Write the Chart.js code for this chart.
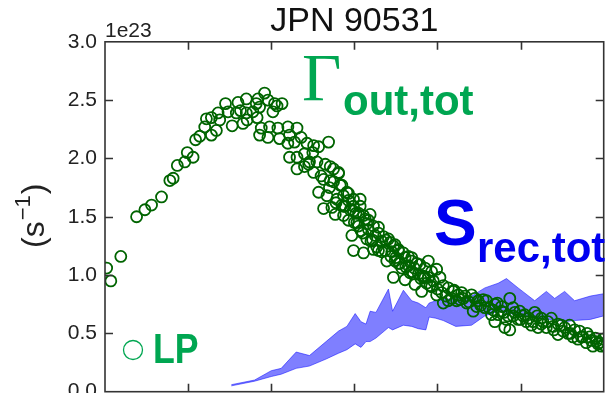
<!DOCTYPE html>
<html><head><meta charset="utf-8">
<script src="https://cdn.jsdelivr.net/npm/chart.js@4"></script>
<style>html,body{margin:0;padding:0;background:#fff;overflow:hidden}</style>
</head><body>
<canvas id="c" width="611" height="399"></canvas>
<script>
// Gamma_out,tot scatter (units of 1e23 s^-1)
const lpX = [
  0.02,0.07,0.19,0.38,0.48,0.56,0.68,0.78,0.82,0.87,
  0.96,0.99,1.06,1.09,1.14,1.20,1.22,1.28,1.34,1.36,
  1.38,1.45,1.48,1.53,1.58,1.60,1.66,1.70,1.70,1.71,
  1.78,1.82,1.86,1.92,1.96,2.02,2.04,2.13,2.07,1.28,
  1.63,1.83,1.84,
  1.88,1.86,1.98,1.96,2.08,2.10,2.20,2.22,2.31,2.36,
  2.20,2.28,2.43,2.51,2.69,2.57,2.22,2.31,2.40,2.46,
  2.55,2.31,2.40,2.51,2.71,2.81,2.63,2.75,2.57,2.67,
  2.83,2.91,2.79,2.99,2.63,2.87,2.99,3.07,
  2.75,2.81,2.71,2.85,2.93,3.07,2.73,2.77,2.89,3.02,
  3.19,3.13,2.97,2.99,3.11,3.05,3.17,3.25,3.33,3.43,
  3.23,3.37,3.53,3.61,3.69,3.49,3.39,3.57,3.69,3.47,
  3.61,3.77,3.85,3.93,3.89,3.73,3.49,3.29,
  3.69,3.79,3.89,3.99,3.71,3.85,4.03,4.13,3.91,3.81,
  3.99,4.07,4.29,4.41,4.23,4.35,4.49,4.57,4.43,4.69,
  4.77,4.65,4.69,4.25,4.13,
  4.87,4.77,4.91,4.99,4.87,4.83,4.97,5.17,5.13,5.25,
  5.37,5.31,5.49,5.59,5.57,5.45,5.71,5.69,5.83,5.79,
  5.91,5.97,5.87,5.21,5.07,4.81,
  2.87,2.93,2.99,3.05,3.11,3.17,3.23,3.29,3.35,3.41,
  3.47,3.53,3.59,3.65,2.87,2.93,3.03,3.08,3.15,3.20,
  3.29,3.44,3.53,3.65,3.75,3.83,3.95,4.07,4.19,4.31,
  4.47,4.59,4.73,4.91,5.03,5.27,5.39,5.51,5.63,5.75,
  5.93,5.99,
  2.45,2.50,2.60,2.65,2.70,2.78,2.85,2.95,3.00,3.10,
  3.15,3.22,3.27,3.33,3.38,3.45,3.50,3.55,3.62,3.67,
  3.72,3.80,3.87,3.93,4.00,4.05,4.10,4.17,4.20,4.27,
  4.33,4.38,4.45,4.52,4.55,4.62,4.67,4.72,4.80,4.85,
  4.93,5.00,5.05,5.10,5.15,5.20,5.25,5.33,5.40,5.45,
  5.53,5.60,5.65,5.73,5.80,5.85,5.90,5.95,6.00
];
const lpY = [
  1.06,0.95,1.16,1.50,1.56,1.60,1.67,1.81,1.83,1.94,
  1.97,2.05,2.01,2.16,2.19,2.27,2.34,2.20,2.24,2.39,
  2.33,2.47,2.40,2.28,2.39,2.48,2.30,2.51,2.39,2.33,
  2.40,2.47,2.44,2.56,2.50,2.40,2.47,2.47,2.45,2.35,
  2.41,2.35,2.51,
  2.26,2.20,2.27,2.18,2.26,2.17,2.27,2.20,2.26,2.18,
  2.13,2.14,2.13,2.11,2.14,2.10,2.01,2.01,2.04,1.97,
  1.97,1.91,1.93,1.88,1.93,1.88,1.82,1.80,1.71,1.68,
  1.77,1.71,1.65,1.65,1.57,1.59,1.55,1.59,
  1.91,1.87,1.81,1.77,1.70,1.65,1.58,1.52,1.59,1.53,
  1.52,1.48,1.34,1.21,1.19,1.42,1.39,1.34,1.29,1.28,
  1.22,1.21,1.22,1.15,1.12,1.12,1.12,1.06,1.03,0.98,
  0.96,1.01,1.06,1.03,0.98,0.92,1.26,1.41,
  1.15,1.09,1.12,1.05,1.01,0.98,0.98,0.89,0.91,0.86,
  0.83,0.76,0.85,0.83,0.78,0.76,0.78,0.72,0.69,0.75,
  0.69,0.66,0.60,0.83,0.78,
  0.80,0.73,0.72,0.69,0.53,0.62,0.62,0.68,0.57,0.63,
  0.63,0.55,0.57,0.57,0.50,0.49,0.52,0.45,0.47,0.42,
  0.43,0.39,0.39,0.55,0.60,0.55,
  1.68,1.64,1.59,1.53,1.51,1.47,1.42,1.36,1.33,1.31,
  1.25,1.21,1.19,1.16,1.51,1.47,1.45,1.38,1.31,1.29,
  1.21,1.16,1.10,1.08,1.10,0.99,0.95,0.91,0.86,0.80,
  0.73,0.78,0.66,0.65,0.65,0.60,0.56,0.52,0.47,0.47,
  0.41,0.45,
  1.95,2.05,1.85,1.95,1.75,1.62,1.60,1.56,1.45,1.36,
  1.44,1.30,1.24,1.20,1.30,1.20,1.15,1.10,1.07,1.02,
  1.06,0.97,0.93,0.90,0.88,0.85,0.82,0.80,0.87,0.79,
  0.82,0.77,0.80,0.74,0.79,0.72,0.70,0.76,0.68,0.65,
  0.68,0.62,0.66,0.63,0.60,0.65,0.58,0.60,0.53,0.58,
  0.55,0.50,0.53,0.47,0.50,0.44,0.46,0.42,0.40
];
// S_rec,tot band (units of 1e23 s^-1)
const bandX = [1.52,1.80,2.00,2.12,2.30,2.46,2.66,2.81,2.91,3.01,3.08,3.14,3.19,3.26,3.41,3.46,3.59,3.69,3.77,3.86,3.90,3.98,4.07,4.22,4.41,4.57,4.73,4.83,4.97,5.17,5.31,5.41,5.53,5.65,5.84,6.00];
const bandUpper = [0.06,0.10,0.18,0.20,0.34,0.31,0.43,0.52,0.56,0.67,0.60,0.58,0.69,0.68,0.88,0.69,0.87,0.78,0.76,0.72,0.76,0.78,0.79,0.80,0.82,0.89,0.93,0.97,0.89,0.78,0.86,0.80,0.86,0.78,0.82,0.84];
const bandLower = [0.05,0.09,0.13,0.15,0.20,0.22,0.28,0.33,0.36,0.41,0.38,0.43,0.43,0.46,0.55,0.53,0.57,0.56,0.54,0.53,0.64,0.63,0.61,0.56,0.57,0.65,0.69,0.68,0.65,0.64,0.62,0.62,0.60,0.61,0.62,0.65];
const xRange = [0, 6];
const yRange = [0, 3];
const yStep = 0.5;
const titleText = 'JPN 90531';
const offsetText = '1e23';

const GREEN_TXT = '#00a651';
const BLUE_TXT = '#0000f0';
const DARKGREEN = '#006400';
const BAND = 'rgba(0,0,255,0.5)';

const decor = {
  id: 'decor',
  afterDraw(chart) {
    const ctx = chart.ctx;
    const {left, right, top, bottom} = chart.chartArea;
    const xs = chart.scales.x, ys = chart.scales.y;
    ctx.save();
    ctx.strokeStyle = '#333';
    ctx.lineWidth = 1.6;
    ctx.strokeRect(left, top, right - left, bottom - top);
    ctx.beginPath();
    xs.ticks.forEach(t => {
      if (t.value <= xRange[0] || t.value >= xRange[1]) return;
      const p = Math.round(xs.getPixelForValue(t.value)) + 0.5;
      ctx.moveTo(p, bottom); ctx.lineTo(p, bottom - 8);
      ctx.moveTo(p, top); ctx.lineTo(p, top + 8);
    });
    ys.ticks.forEach(t => {
      if (t.value <= yRange[0] || t.value >= yRange[1]) return;
      const p = Math.round(ys.getPixelForValue(t.value)) + 0.5;
      ctx.moveTo(left, p); ctx.lineTo(left + 8, p);
      ctx.moveTo(right, p); ctx.lineTo(right - 8, p);
    });
    ctx.stroke();

    ctx.fillStyle = '#222';
    ctx.textBaseline = 'alphabetic';
    ctx.textAlign = 'left';
    ctx.font = '21px "Liberation Sans"';
    ctx.fillText(offsetText, left, top - 5);

    // y-axis label (s^-1)
    ctx.save();
    ctx.translate(44, 248);
    ctx.rotate(-Math.PI / 2);
    ctx.font = '32px "Liberation Sans"';
    ctx.fillText('(s', 0, 0);
    let w = ctx.measureText('(s').width;
    ctx.font = '22px "Liberation Sans"';
    ctx.fillText('\u22121', w + 1, -14);
    w += ctx.measureText('\u22121').width + 2;
    ctx.font = '32px "Liberation Sans"';
    ctx.fillText(')', w, 0);
    ctx.restore();

    // annotations
    ctx.fillStyle = GREEN_TXT;
    ctx.font = '68px "Liberation Serif"';
    ctx.fillText('\u0393', 302, 100);
    ctx.font = 'bold 42px "Liberation Sans"';
    ctx.fillText('out,tot', 343, 115);

    ctx.fillStyle = BLUE_TXT;
    ctx.font = 'bold 64px "Liberation Sans"';
    ctx.fillText('S', 434, 245);
    ctx.font = 'bold 42px "Liberation Sans"';
    ctx.fillText('rec,tot', 477, 262);

    ctx.strokeStyle = GREEN_TXT;
    ctx.lineWidth = 1.3;
    ctx.beginPath();
    ctx.arc(133, 350, 9.5, 0, Math.PI * 2);
    ctx.stroke();
    ctx.fillStyle = GREEN_TXT;
    ctx.save();
    ctx.translate(153, 363);
    ctx.scale(0.85, 1);
    ctx.font = 'bold 42px "Liberation Sans"';
    ctx.fillText('LP', 0, 0);
    ctx.restore();
    ctx.restore();
  }
};

new Chart(document.getElementById('c'), {
  type: 'line',
  data: {
    datasets: [
      {
        label: 'Gamma out,tot',
        data: lpX.map((x, i) => ({x, y: lpY[i]})),
        showLine: false,
        pointRadius: 5.5,
        pointBorderWidth: 1.8,
        pointBorderColor: DARKGREEN,
        pointBackgroundColor: 'rgba(0,0,0,0)',
        borderColor: DARKGREEN
      },
      {
        label: 'S rec lower',
        data: bandX.map((x, i) => ({x, y: bandLower[i]})),
        borderColor: BAND,
        borderWidth: 1,
        pointRadius: 0,
        tension: 0,
        fill: false
      },
      {
        label: 'S rec upper',
        data: bandX.map((x, i) => ({x, y: bandUpper[i]})),
        borderColor: BAND,
        backgroundColor: BAND,
        borderWidth: 1,
        pointRadius: 0,
        tension: 0,
        fill: '-1'
      }
    ]
  },
  options: {
    responsive: false,
    animation: false,
    devicePixelRatio: 1,
    layout: {padding: {left: 65, right: 5, top: 0, bottom: 0}},
    plugins: {
      legend: {display: false},
      tooltip: {enabled: false},
      title: {
        display: true,
        text: titleText,
        fullSize: false,
        color: '#111',
        font: {family: 'Liberation Sans', size: 34, weight: 'normal'},
        padding: {top: 1, bottom: 0}
      }
    },
    scales: {
      x: {
        type: 'linear',
        min: xRange[0], max: xRange[1],
        ticks: {display: false, stepSize: 1},
        grid: {display: false, drawTicks: false},
        border: {display: false},
        afterFit(s) { s.height = 0; s.paddingLeft = 0; s.paddingRight = 0; }
      },
      y: {
        min: yRange[0], max: yRange[1],
        ticks: {
          stepSize: yStep,
          padding: 8,
          color: '#222',
          font: {family: 'Liberation Sans', size: 21},
          callback: v => v.toFixed(1)
        },
        grid: {display: false, drawTicks: false},
        border: {display: false},
        afterFit(s) { s.width = 40; s.paddingTop = 0; s.paddingBottom = 0; }
      }
    }
  },
  plugins: [decor]
});
</script>
</body></html>
